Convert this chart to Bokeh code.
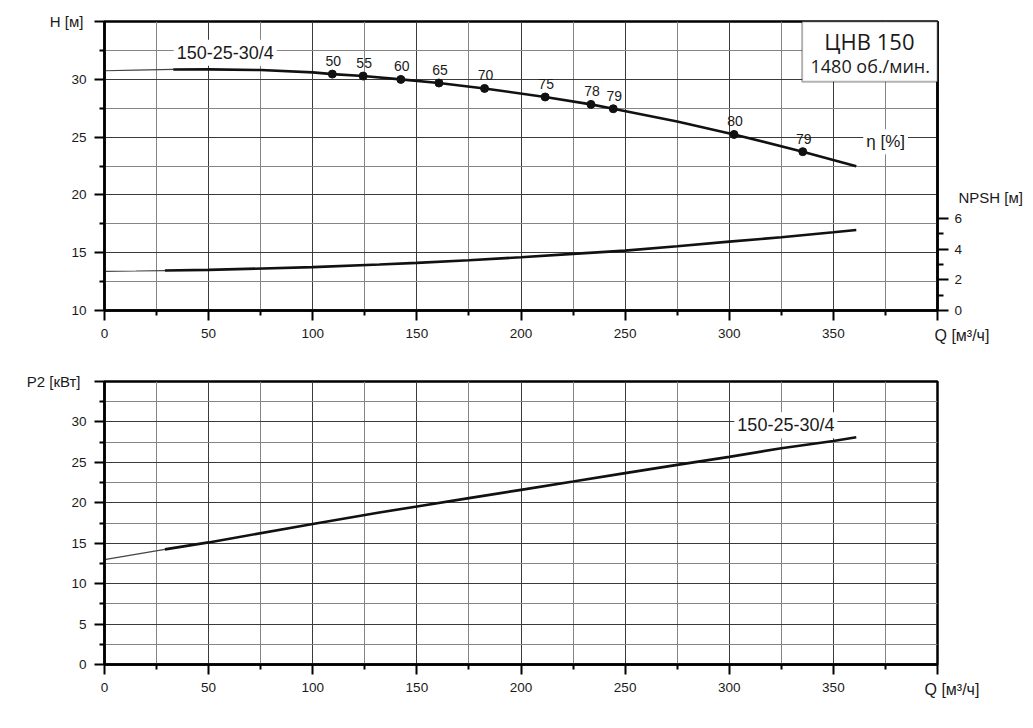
from bokeh.plotting import figure
from bokeh.models import Range1d, LinearAxis, FixedTicker, Label, BoxAnnotation, Title
from bokeh.layouts import column
from bokeh.core.properties import value
from bokeh.embed import file_html
from bokeh.resources import INLINE

# ---------------- data ----------------
# Head curve H(Q)
q_h_ext = [0, 15, 33]
h_ext = [30.74, 30.80, 30.85]
q_h = [33, 50, 75, 100, 109.4, 124.2, 142.3, 160.6, 182.5, 211.6, 233.6, 244.3, 275, 302.3, 335.3, 361]
h_vals = [30.85, 30.86, 30.8, 30.6, 30.45, 30.28, 29.99, 29.68, 29.21, 28.47, 27.83, 27.45, 26.35, 25.23, 23.74, 22.47]

# efficiency points on the head curve
q_eff = [109.4, 124.2, 142.3, 160.6, 182.5, 211.6, 233.6, 244.3, 302.3, 335.3]
h_eff = [30.45, 30.28, 29.99, 29.68, 29.21, 28.47, 27.83, 27.45, 25.23, 23.74]
eff_labels = ["50", "55", "60", "65", "70", "75", "78", "79", "80", "79"]

# NPSH curve
q_n_ext = [0, 15, 29]
n_ext = [2.56, 2.58, 2.61]
q_n = [29, 50, 100, 132, 150, 175, 200, 225, 250, 275, 300, 325, 350, 361]
n_vals = [2.61, 2.65, 2.83, 3.0, 3.11, 3.28, 3.48, 3.70, 3.91, 4.19, 4.5, 4.78, 5.11, 5.26]

# Power curve P2(Q)
q_p_ext = [0, 29]
p_ext = [12.96, 14.24]
q_p = [29, 50, 100, 132, 150, 175, 200, 225, 250, 275, 300, 325, 350, 361]
p_vals = [14.24, 15.1, 17.37, 18.8, 19.54, 20.58, 21.6, 22.63, 23.67, 24.69, 25.68, 26.75, 27.65, 28.1]

x_ticks = [0, 50, 100, 150, 200, 250, 300, 350, 400]
x_minor = [25, 75, 125, 175, 225, 275, 325, 375]
h_ticks = [10, 15, 20, 25, 30, 35]
h_minor = [12.5, 17.5, 22.5, 27.5, 32.5]
npsh_ticks = [0, 2, 4, 6]
npsh_minor = [1, 3, 5]
p_ticks = [0, 5, 10, 15, 20, 25, 30, 35]
p_minor = [2.5, 7.5, 12.5, 17.5, 22.5, 27.5, 32.5]

model_name = "150-25-30/4"
title1 = "ЦНВ 150"
title2 = "1480 об./мин."
h_title = "H [м]"
p_title = "P2 [кВт]"
q_title = "Q [м³/ч]"
npsh_title = "NPSH [м]"
eta_title = "η [%]"

# ---------------- styling helpers ----------------
TICK_FONT = "Liberation Sans"
TEXT_COLOR = "#1a1a1a"
DARK_GRID = "#3a3a3a"
LIGHT_GRID = "#858585"


def style_axis(ax, major, minor, overrides=None, standoff=8):
    ax.ticker = FixedTicker(ticks=major, minor_ticks=minor)
    ax.axis_line_color = "black"
    ax.axis_line_width = 2.5
    ax.major_tick_line_color = "black"
    ax.major_tick_line_width = 2
    ax.minor_tick_line_color = "black"
    ax.minor_tick_line_width = 2
    ax.major_tick_in = 0
    ax.major_tick_out = 10
    ax.minor_tick_in = 0
    ax.minor_tick_out = 5
    ax.major_label_text_font = TICK_FONT
    ax.major_label_text_font_size = "13.5px"
    ax.major_label_text_color = TEXT_COLOR
    ax.major_label_standoff = standoff
    if overrides:
        ax.major_label_overrides = overrides


def title_axis(p, side, tick, text, standoff, size="15px"):
    """A bare axis (no line, no tick marks) that only carries one title text."""
    ax = LinearAxis(ticker=FixedTicker(ticks=[tick], minor_ticks=[]),
                    major_label_overrides={tick: text})
    ax.axis_line_color = None
    ax.major_tick_line_color = None
    ax.minor_tick_line_color = None
    ax.major_tick_out = 0
    ax.major_tick_in = 0
    ax.minor_tick_out = 0
    ax.minor_tick_in = 0
    ax.major_label_standoff = standoff
    ax.major_label_text_font = TICK_FONT
    ax.major_label_text_font_size = size
    ax.major_label_text_color = TEXT_COLOR
    p.add_layout(ax, side)
    return ax


def q_title_below(p, offset, standoff):
    t = Title(text=q_title, align="left", vertical_align="top", offset=offset, standoff=standoff,
              text_font=TICK_FONT, text_font_size="16px", text_font_style="normal",
              text_color=TEXT_COLOR)
    p.add_layout(t, "below")
    return t


def style_fig(p):
    p.outline_line_color = "black"
    p.outline_line_width = 2.5
    p.background_fill_color = "white"
    p.border_fill_color = "white"
    for g in (p.xgrid[0], p.ygrid[0]):
        g.grid_line_color = DARK_GRID
        g.grid_line_width = 1
        g.minor_grid_line_color = LIGHT_GRID
        g.minor_grid_line_width = 1


def lbl(p, x, y, text, size="15px", font=TICK_FONT, align="left", baseline="middle", bg=None, **kw):
    l = Label(x=x, y=y, text=text, text_font=font, text_font_size=size,
              text_align=align, text_baseline=baseline, text_color=TEXT_COLOR, **kw)
    if bg:
        l.background_fill_color = bg
        l.background_fill_alpha = 1.0
        l.padding = 3
    p.add_layout(l)
    return l


# ---------------- top figure: H & NPSH ----------------
p1 = figure(width=1025, height=355, x_range=Range1d(0, 400), y_range=Range1d(10, 35),
            output_backend="svg", toolbar_location=None,
            min_border_left=104, min_border_right=85, min_border_top=21, min_border_bottom=45)
p1.extra_y_ranges = {"npsh": Range1d(0, 18.87)}
style_fig(p1)
style_axis(p1.xaxis[0], x_ticks, x_minor, {400: ""})
style_axis(p1.yaxis[0], h_ticks, h_minor, {35: ""})
npsh_axis = LinearAxis(y_range_name="npsh")
style_axis(npsh_axis, npsh_ticks, npsh_minor, standoff=6)
npsh_axis.major_tick_out = 11
npsh_axis.minor_tick_out = 6
p1.add_layout(npsh_axis, "right")
q_title_below(p1, 830, -28)
title_axis(p1, "left", 35, h_title, -15)
title_axis(p1, "right", 19.8, npsh_title, -7)

p1.line(q_h_ext, h_ext, line_color="#444444", line_width=1.2)
p1.line(q_h, h_vals, line_color="#111111", line_width=2.6)
p1.line(q_n_ext, n_ext, line_color="#444444", line_width=1.2, y_range_name="npsh")
p1.line(q_n, n_vals, line_color="#111111", line_width=2.6, y_range_name="npsh")
p1.scatter(q_eff, h_eff, size=8, color="#111111")
p1.text(x=q_eff, y=h_eff, text=eff_labels, x_offset=1, y_offset=-13,
        text_align="center", text_baseline="middle", text_color=TEXT_COLOR,
        text_font=value(TICK_FONT), text_font_size="14px")

lbl(p1, 58, 32.3, model_name, size="18px", align="center", bg="white")
lbl(p1, 375.1, 24.6, eta_title, size="17px", align="center", bg="white")

box = BoxAnnotation(left=335, right=400, top=35, bottom=29.79,
                    fill_color="white", fill_alpha=1.0, line_color="black", line_width=2)
p1.add_layout(box)
lbl(p1, 367.3, 33.33, title1, size="22px", font="Open Sans", align="center")
lbl(p1, 367.7, 31.11, title2, size="18px", font="Open Sans", align="center")

# ---------------- bottom figure: P2 ----------------
p2 = figure(width=1025, height=349, x_range=Range1d(0, 400), y_range=Range1d(0, 35),
            output_backend="svg", toolbar_location=None,
            min_border_left=104, min_border_right=85, min_border_top=26, min_border_bottom=40)
style_fig(p2)
style_axis(p2.xaxis[0], x_ticks, x_minor, {400: ""})
style_axis(p2.yaxis[0], p_ticks, p_minor, {35: ""})
q_title_below(p2, 820, -28)
title_axis(p2, "left", 35, p_title, -12)

p2.line(q_p_ext, p_ext, line_color="#444444", line_width=1.2)
p2.line(q_p, p_vals, line_color="#111111", line_width=2.6)

lbl(p2, 327.2, 29.6, model_name, size="18px", align="center", bg="white")

layout = column(p1, p2, spacing=0)
open("out.html", "w").write(file_html(layout, INLINE))
